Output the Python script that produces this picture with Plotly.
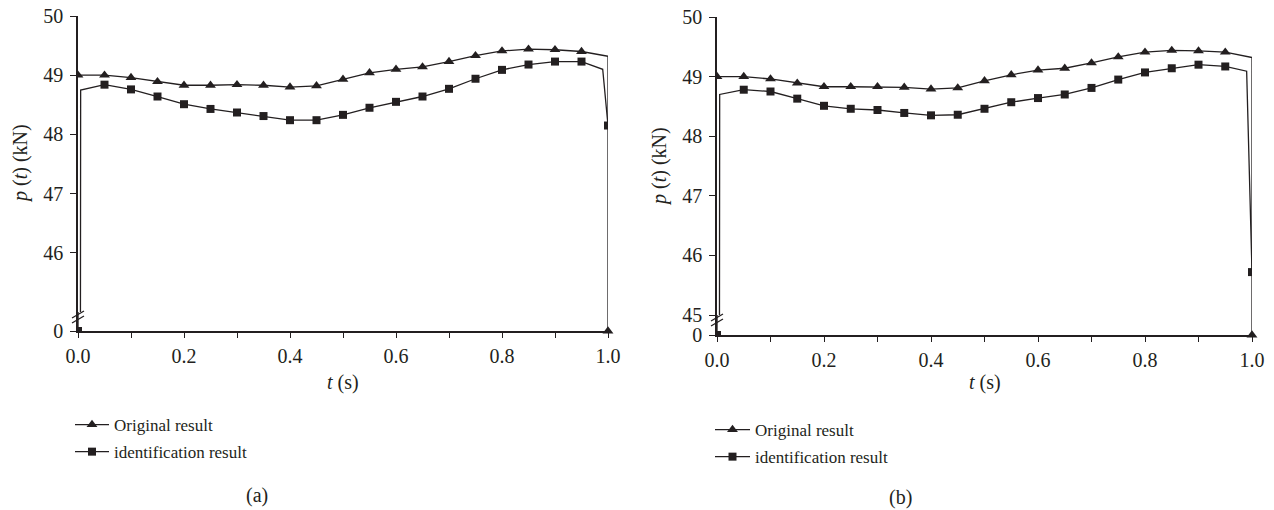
import plotly.graph_objects as go

W, H = 1274, 510
INK = "#231f20"
FONT = "Liberation Serif"

# ---------------- data ----------------
# time stamps of the "Original result" series (last vertex is the drop at t = 1.0)
t_orig = [0.0, 0.05, 0.10, 0.15, 0.20, 0.25, 0.30, 0.35, 0.40, 0.45, 0.50,
          0.55, 0.60, 0.65, 0.70, 0.75, 0.80, 0.85, 0.90, 0.95, 1.0, 1.0]
orig_a = [49.00, 49.00, 48.96, 48.89, 48.83, 48.83, 48.84, 48.83, 48.80, 48.82, 48.93,
          49.04, 49.10, 49.14, 49.23, 49.33, 49.41, 49.44, 49.43, 49.40, 49.32, 0.0]
orig_b = [49.00, 49.00, 48.96, 48.89, 48.83, 48.83, 48.83, 48.82, 48.79, 48.81, 48.93,
          49.03, 49.11, 49.14, 49.23, 49.33, 49.41, 49.44, 49.43, 49.41, 49.32, 0.0]
orig_has_marker = [1] * 20 + [0, 1]

# time stamps of the "identification result" series
t_ident = [0.0, 0.005, 0.05, 0.10, 0.15, 0.20, 0.25, 0.30, 0.35, 0.40, 0.45, 0.50,
           0.55, 0.60, 0.65, 0.70, 0.75, 0.80, 0.85, 0.90, 0.95, 0.99, 1.0]
ident_a = [0.0, 48.75, 48.84, 48.76, 48.64, 48.51, 48.43, 48.37, 48.31, 48.24, 48.24, 48.33,
           48.45, 48.55, 48.64, 48.77, 48.94, 49.09, 49.18, 49.23, 49.23, 49.10, 48.15]
ident_b = [0.0, 48.70, 48.78, 48.75, 48.63, 48.51, 48.46, 48.44, 48.39, 48.35, 48.36, 48.46,
           48.57, 48.64, 48.70, 48.81, 48.95, 49.07, 49.14, 49.20, 49.17, 49.09, 45.72]
ident_has_marker = [1, 0] + [1] * 19 + [0, 1]

x_tickvals = [0.0, 0.1, 0.2, 0.3, 0.4, 0.5, 0.6, 0.7, 0.8, 0.9, 1.0]
x_ticktext = ["0.0", "", "0.2", "", "0.4", "", "0.6", "", "0.8", "", "1.0"]
y_ticks_a = [46, 47, 48, 49, 50]
y_ticks_b = [45, 46, 47, 48, 49, 50]
series_names = ["Original result", "identification result"]
panel_labels = ["(a)", "(b)"]

# ---------------- helpers ----------------
def fx(px):
    return px / W

def fy(py):
    return 1 - py / H

TRI, SQ = 9.5, 8

def sizes(flags, s):
    return [s if f else 0 for f in flags]

fig = go.Figure()

panels = [
    dict(xd=(78, 608), up=(16, 312), lo=(312, 331), ticks=y_ticks_a, orig=orig_a, ident=ident_a,
         xl="x", yl="y", xu="x2", yu="y2", legend="legend"),
    dict(xd=(717, 1252), up=(17, 315), lo=(315, 335), ticks=y_ticks_b, orig=orig_b, ident=ident_b,
         xl="x3", yl="y3", xu="x4", yu="y4", legend="legend2"),
]

for k, p in enumerate(panels):
    for (xa, ya, lower) in [(p["xl"], p["yl"], True), (p["xu"], p["yu"], False)]:
        fig.add_trace(go.Scatter(
            x=t_orig, y=p["orig"], mode="lines+markers", xaxis=xa, yaxis=ya,
            line=dict(color=INK, width=1.3),
            marker=dict(symbol="triangle-up", size=sizes(orig_has_marker, TRI), color=INK,
                        opacity=1, line=dict(width=0)),
            cliponaxis=not lower, showlegend=False, hoverinfo="skip"))
        fig.add_trace(go.Scatter(
            x=t_ident, y=p["ident"], mode="lines+markers", xaxis=xa, yaxis=ya,
            line=dict(color=INK, width=1.3),
            marker=dict(symbol="square", size=sizes(ident_has_marker, SQ), color=INK,
                        opacity=1, line=dict(width=0)),
            cliponaxis=True, showlegend=False, hoverinfo="skip"))
    # legend entries
    for j, (name, sym, s) in enumerate([(series_names[0], "triangle-up", TRI),
                                        (series_names[1], "square", SQ)]):
        fig.add_trace(go.Scatter(
            x=[None], y=[None], mode="lines+markers", name=name, xaxis=p["xu"], yaxis=p["yu"],
            line=dict(color=INK, width=1.3), marker=dict(symbol=sym, size=s, color=INK, opacity=1),
            legend=p["legend"], legendgroup=f"g{k}{j}", showlegend=True))

axis_common = dict(showgrid=False, zeroline=False, showline=True, linecolor=INK, linewidth=1.5,
                   ticks="outside", tickcolor=INK, tickwidth=1.3, automargin=False,
                   tickfont=dict(family=FONT, size=20, color=INK))

layout = dict(
    width=W, height=H, margin=dict(l=0, r=0, t=0, b=0, pad=0, autoexpand=False),
    paper_bgcolor="white", plot_bgcolor="white",
    font=dict(family=FONT, color=INK),
)

for i, p in enumerate(panels):
    xl = "xaxis" + ("" if i == 0 else "3")
    yl = "yaxis" + ("" if i == 0 else "3")
    xu = "xaxis" + ("2" if i == 0 else "4")
    yu = "yaxis" + ("2" if i == 0 else "4")
    dom = [fx(p["xd"][0]), fx(p["xd"][1])]
    layout[xl] = dict(axis_common, domain=dom, range=[0, 1], anchor=p["yl"],
                      tickvals=x_tickvals, ticktext=x_ticktext, ticklen=5, ticklabelstandoff=1)
    layout[xu] = dict(domain=dom, range=[0, 1], anchor=p["yu"], visible=False, matches=p["xl"])
    layout[yl] = dict(axis_common, domain=[fy(p["lo"][1]), fy(p["lo"][0])], range=[0, 1],
                      anchor=p["xl"], tickvals=[0], ticktext=["0"], ticklen=6, ticklabelstandoff=3)
    layout[yu] = dict(axis_common, domain=[fy(p["up"][1]), fy(p["up"][0])], range=[45, 50],
                      anchor=p["xu"], tickvals=p["ticks"], ticklen=6, ticklabelstandoff=3)

layout["legend"] = dict(x=fx(70), y=fy(407), xanchor="left", yanchor="top",
                        bgcolor="rgba(0,0,0,0)", font=dict(family=FONT, size=17, color=INK),
                        itemwidth=34, tracegroupgap=2)
layout["legend2"] = dict(x=fx(710), y=fy(412), xanchor="left", yanchor="top",
                         bgcolor="rgba(0,0,0,0)", font=dict(family=FONT, size=17, color=INK),
                         itemwidth=35, tracegroupgap=2)

fig.update_layout(**layout)

# axis titles and panel labels
ann = []
for i, p in enumerate(panels):
    cx = (p["xd"][0] + p["xd"][1]) / 2
    ann.append(dict(text="<i>t</i> (s)", x=fx(cx), y=fy(382), xref="paper", yref="paper",
                    showarrow=False, xanchor="center", yanchor="middle",
                    font=dict(family=FONT, size=20, color=INK)))
    ann.append(dict(text="<i>p</i> (<i>t</i>) (kN)", x=fx(p["xd"][0] - 57), y=fy((p["up"][0] + p["up"][1]) / 2),
                    xref="paper", yref="paper", textangle=-90, showarrow=False,
                    xanchor="center", yanchor="middle", font=dict(family=FONT, size=20, color=INK)))
ann.append(dict(text=panel_labels[0], x=fx(257), y=fy(495), xref="paper", yref="paper", showarrow=False,
                xanchor="center", yanchor="middle", font=dict(family=FONT, size=20, color=INK)))
ann.append(dict(text=panel_labels[1], x=fx(900), y=fy(497), xref="paper", yref="paper", showarrow=False,
                xanchor="center", yanchor="middle", font=dict(family=FONT, size=20, color=INK)))
fig.update_layout(annotations=ann)

# axis-break marks
shapes = []
for p in panels:
    ax = p["xd"][0]
    yb = p["up"][1]
    for dy in (0, 5):
        shapes.append(dict(type="line", xref="paper", yref="paper",
                           x0=fx(ax - 6), y0=fy(yb + 6 + dy), x1=fx(ax + 6), y1=fy(yb - 1 + dy),
                           line=dict(color=INK, width=1.3)))
fig.update_layout(shapes=shapes)

fig.write_html("out.html")
